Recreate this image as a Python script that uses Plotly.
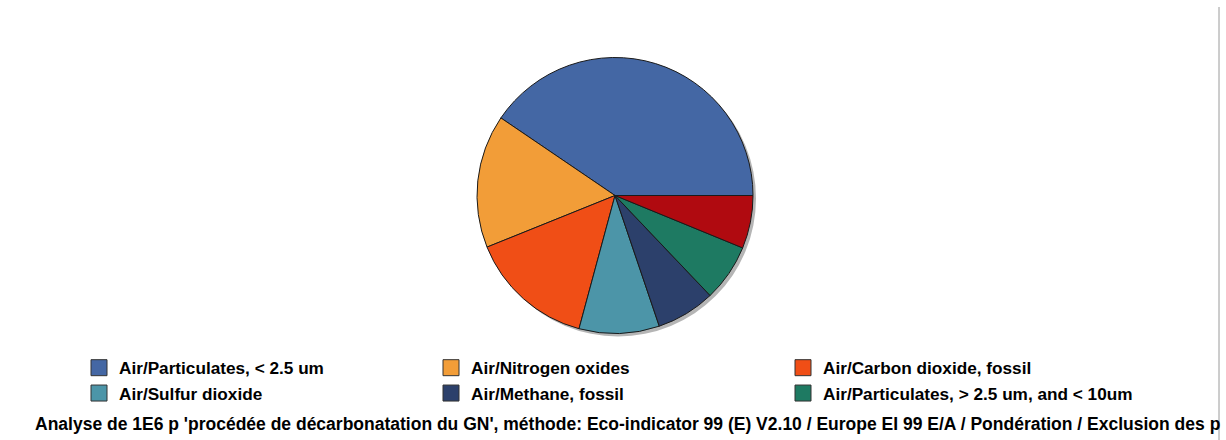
import plotly.graph_objects as go

# Impact shares per substance (single score, Eco-indicator 99)
labels = [
    "Air/Particulates, < 2.5 um",
    "Air/Nitrogen oxides",
    "Air/Carbon dioxide, fossil",
    "Air/Sulfur dioxide",
    "Air/Methane, fossil",
    "Air/Particulates, > 2.5 um, and < 10um",
    "Autres substances",
]
values = [40.5, 15.6, 14.7, 9.4, 6.9, 6.7, 6.2]
colors = ["#4467A4", "#F29D38", "#F04E16", "#4C95A8", "#2C406B", "#1E7A62", "#B00A10"]
legend_count = 6  # last slice has no legend entry

title_text = ("Analyse de 1E6 p 'procédée de décarbonatation du GN', méthode: Eco-indicator 99 (E) V2.10 "
              "/ Europe EI 99 E/A / Pondération / Exclusion des p")

W, H = 1226, 440
cx, cy, r = 615, 195.5, 138
shadow_dx, shadow_dy = 3, 3

# first slice opens counter-clockwise from 3 o'clock
first_share = values[0] / sum(values)
rotation = 90 - 360 * first_share


def dom(x0, y0, rad):
    return dict(x=[(x0 - rad) / W, (x0 + rad) / W],
                y=[1 - (y0 + rad) / H, 1 - (y0 - rad) / H])


fig = go.Figure()

# soft drop shadow under the pie
fig.add_trace(go.Pie(
    values=[1], labels=["shadow"], domain=dom(cx + shadow_dx, cy + shadow_dy, r),
    marker=dict(colors=["rgba(120,120,120,0.55)"], line=dict(width=0)),
    textinfo="none", hoverinfo="skip", showlegend=False, sort=False,
))

fig.add_trace(go.Pie(
    values=values, labels=labels, domain=dom(cx, cy, r),
    marker=dict(colors=colors, line=dict(color="#1a1a1a", width=1)),
    sort=False, direction="counterclockwise", rotation=rotation,
    textinfo="none", showlegend=False,
))

# legend entries as square swatches
for name, col in zip(labels[:legend_count], colors[:legend_count]):
    fig.add_trace(go.Scatter(
        x=[None], y=[None], mode="markers", name=name,
        marker=dict(symbol="square", size=16, color=col, line=dict(color="#333333", width=1)),
    ))

fig.add_annotation(
    text=title_text, x=33 / W, y=1 - 424 / H, xref="paper", yref="paper",
    xanchor="left", yanchor="middle", showarrow=False,
    font=dict(family="Liberation Sans, Arial, sans-serif", size=17.5, color="#000000", weight="bold"),
)

fig.add_shape(type="line", xref="paper", yref="paper",
              x0=1219 / W, x1=1219 / W, y0=0, y1=1 - 7 / H,
              line=dict(color="#9a9a9a", width=1))

fig.update_layout(
    width=W, height=H,
    margin=dict(l=0, r=0, t=0, b=0),
    paper_bgcolor="white", plot_bgcolor="white",
    xaxis=dict(visible=False), yaxis=dict(visible=False),
    legend=dict(
        orientation="h", x=79 / W, y=1 - 350 / H, xanchor="left", yanchor="top",
        entrywidth=307, entrywidthmode="pixels", itemsizing="trace",
        font=dict(family="Liberation Sans, Arial, sans-serif", size=17.2, color="#000000", weight="bold"),
        bgcolor="rgba(0,0,0,0)", tracegroupgap=0,
    ),
)

fig.write_html("out.html")
